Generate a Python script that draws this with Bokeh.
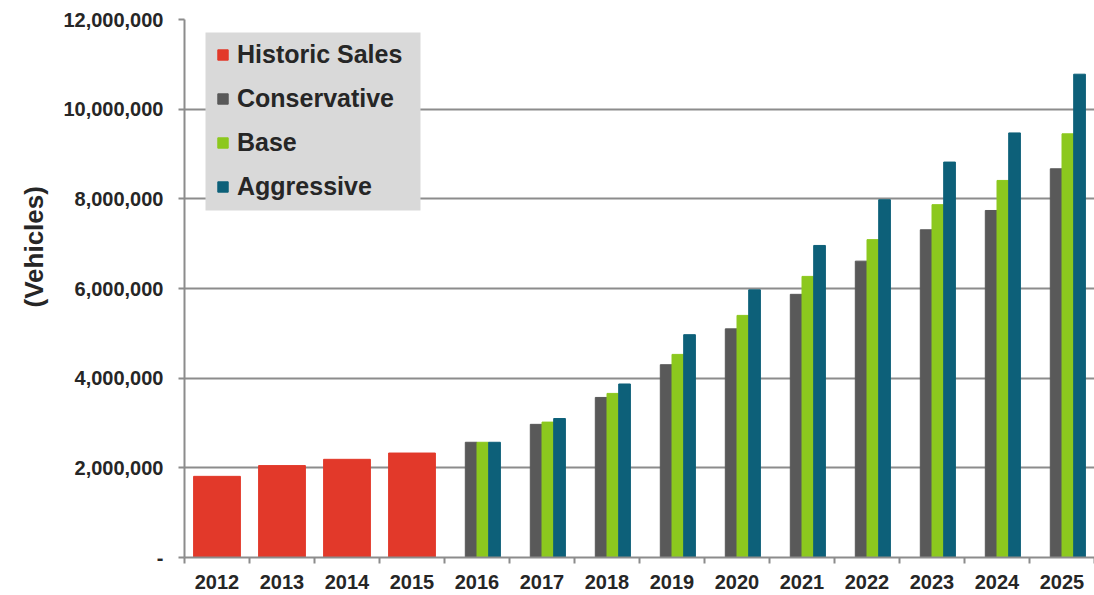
from bokeh.plotting import figure
from bokeh.models import (Range1d, FixedTicker, Legend, LegendItem, ColumnDataSource,
                          NumeralTickFormatter, BasicTickFormatter, BoxAnnotation, Title)
from bokeh.transform import dodge
from bokeh.embed import file_html
from bokeh.resources import INLINE

years = [2012, 2013, 2014, 2015, 2016, 2017, 2018, 2019, 2020, 2021, 2022, 2023, 2024, 2025]
hist_years = [2012, 2013, 2014, 2015]
historic_sales = [1810000, 2050000, 2190000, 2330000]
proj_years = [2016, 2017, 2018, 2019, 2020, 2021, 2022, 2023, 2024, 2025]
conservative = [2570000, 2970000, 3570000, 4300000, 5100000, 5870000, 6610000, 7310000, 7740000, 8670000]
base = [2570000, 3020000, 3660000, 4530000, 5400000, 6270000, 7090000, 7870000, 8410000, 9450000]
aggressive = [2570000, 3100000, 3870000, 4970000, 5970000, 6960000, 7980000, 8820000, 9470000, 10780000]
y_ticks = [0, 2000000, 4000000, 6000000, 8000000, 10000000, 12000000]

FONT = "Liberation Sans"
TXT = "#262626"
GRID = "#8C8C8C"

hist_src = ColumnDataSource(dict(x=hist_years, top=historic_sales))
proj_src = ColumnDataSource(dict(x=proj_years, cons=conservative, base=base, aggr=aggressive))

p = figure(width=1094, height=595, output_backend="svg", toolbar_location=None,
           x_range=Range1d(years[0] - 0.5, years[-1] + 0.5), y_range=Range1d(0, 12000000),
           min_border_left=184, min_border_top=19, min_border_bottom=38, min_border_right=0)
p.outline_line_color = None
p.background_fill_color = "white"

r_hist = p.vbar(x="x", top="top", width=0.72, source=hist_src, color="#E2392A")
r_cons = p.vbar(x=dodge("x", -0.09, range=p.x_range), top="cons", width=0.18, source=proj_src, color="#595959")
r_base = p.vbar(x=dodge("x", 0.09, range=p.x_range), top="base", width=0.18, source=proj_src, color="#8CC81E")
r_aggr = p.vbar(x=dodge("x", 0.27, range=p.x_range), top="aggr", width=0.18, source=proj_src, color="#0D6079")

# axes
p.xgrid.visible = False
p.ygrid.grid_line_color = GRID
p.ygrid.grid_line_width = 2

xa = p.xaxis[0]
xa.ticker = FixedTicker(ticks=years, minor_ticks=[y - 0.5 for y in years] + [years[-1] + 0.5])
xa.formatter = BasicTickFormatter(use_scientific=False)
xa.major_tick_out = 0
xa.major_tick_in = 0
xa.minor_tick_out = 6
xa.minor_tick_in = 0
xa.minor_tick_line_color = GRID
xa.minor_tick_line_width = 2
xa.axis_line_color = GRID
xa.axis_line_width = 2
xa.major_label_standoff = 11
xa.major_label_text_font = FONT
xa.major_label_text_font_style = "bold"
xa.major_label_text_font_size = "20px"
xa.major_label_text_color = TXT

ya = p.yaxis[0]
ya.ticker = FixedTicker(ticks=y_ticks, minor_ticks=[])
ya.formatter = NumeralTickFormatter(format="0,0")
ya.major_label_overrides = {0: "-"}
ya.major_tick_out = 6
ya.major_tick_in = 0
ya.major_tick_line_color = GRID
ya.major_tick_line_width = 2
ya.axis_line_color = GRID
ya.axis_line_width = 2
ya.major_label_standoff = 15
ya.major_label_text_font = FONT
ya.major_label_text_font_style = "bold"
ya.major_label_text_font_size = "20px"
ya.major_label_text_color = TXT

# y title as a side Title so it can sit above the frame centre
p.add_layout(Title(text="(Vehicles)", align="left", offset=250, standoff=23,
                   text_font=FONT, text_font_style="bold", text_font_size="26px",
                   text_color=TXT), "left")

# legend background
p.add_layout(BoxAnnotation(left=21, right=236, bottom=347, top=525,
                           left_units="screen", right_units="screen",
                           bottom_units="screen", top_units="screen",
                           fill_color="#D9D9D9", fill_alpha=1, line_color=None))

legend = Legend(items=[
    LegendItem(label="Historic Sales", renderers=[r_hist]),
    LegendItem(label="Conservative", renderers=[r_cons]),
    LegendItem(label="Base", renderers=[r_base]),
    LegendItem(label="Aggressive", renderers=[r_aggr]),
], location=(32, 356))
legend.background_fill_alpha = 0
legend.border_line_color = None
legend.label_text_font = FONT
legend.label_text_font_style = "bold"
legend.label_text_font_size = "25px"
legend.label_text_color = TXT
legend.glyph_width = 13
legend.glyph_height = 13
legend.label_height = 30
legend.spacing = 14
legend.padding = 0
legend.label_standoff = 8
legend.margin = 0
p.add_layout(legend, "center")

open("out.html", "w").write(file_html(p, INLINE))
